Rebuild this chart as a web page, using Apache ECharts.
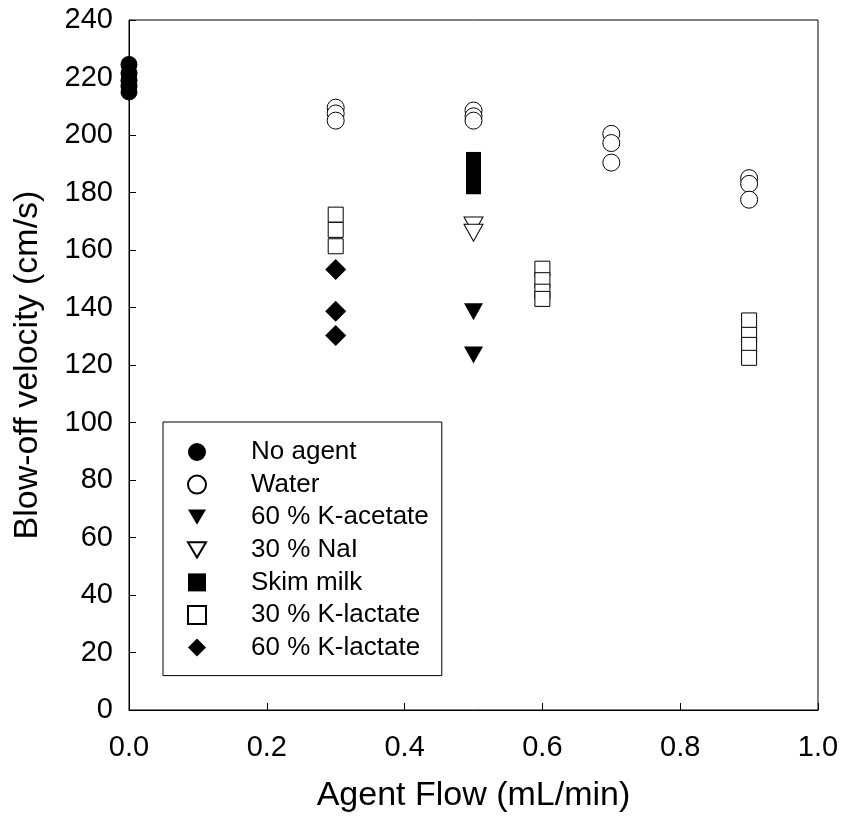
<!DOCTYPE html>
<html>
<head>
<meta charset="utf-8">
<script src="https://cdn.jsdelivr.net/npm/echarts@6/dist/echarts.min.js"></script>
<style>
  html, body { margin: 0; padding: 0; background: #fff; }
  #chart { width: 842px; height: 818px; }
</style>
</head>
<body>
<div id="chart"></div>
<script>
// [agent flow, blow-off velocity]
const noAgent = [[0, 224.5], [0, 221.5], [0, 219], [0, 217], [0, 215]];
const water = [[0.3, 209.5], [0.3, 207.5], [0.3, 205], [0.5, 208.5], [0.5, 206.5], [0.5, 205],
  [0.7, 200.4], [0.7, 197.2], [0.7, 190.4], [0.9, 185], [0.9, 183], [0.9, 177.5]];
const kAcetate60 = [[0.5, 138.5], [0.5, 123.5]];
const naI30 = [[0.5, 168.5], [0.5, 166]];
const skimMilk = [[0.5, 191.5], [0.5, 188.5], [0.5, 186], [0.5, 182]];
const kLactate30 = [[0.3, 172.3], [0.3, 167], [0.3, 161.3], [0.6, 153.5], [0.6, 149.5], [0.6, 145.5], [0.6, 143],
  [0.9, 135.5], [0.9, 130.5], [0.9, 127], [0.9, 122.5]];
const kLactate60 = [[0.3, 153.2], [0.3, 138.7], [0.3, 130.3]];

const xTicks = [0, 0.2, 0.4, 0.6, 0.8, 1.0];
const yTicks = [0, 20, 40, 60, 80, 100, 120, 140, 160, 180, 200, 220, 240];

const triDown = 'path://M0,0 L20,0 L10,17 Z';
const font = 'Liberation Sans, Arial, sans-serif';

function mk(name, data, symbol, size, filled) {
  return {
    name: name,
    type: 'scatter',
    data: data,
    symbol: symbol,
    symbolSize: size,
    itemStyle: filled
      ? { color: '#000', borderColor: '#000', borderWidth: 0, opacity: 1 }
      : { color: '#fff', borderColor: '#000', borderWidth: 1, opacity: 1 },
    emphasis: { disabled: true }
  };
}

const chart = echarts.init(document.getElementById('chart'));
chart.setOption({
  animation: false,
  backgroundColor: '#fff',
  textStyle: { fontFamily: font, color: '#000' },
  grid: { left: 129, right: 24, top: 20, bottom: 107, show: true, borderColor: '#000', borderWidth: 1 },
  legend: {
    orient: 'vertical',
    left: 163,
    top: 422,
    itemWidth: 18,
    itemHeight: 18,
    itemGap: 6.6,
    padding: [17, 13, 15, 24],
    borderColor: '#000',
    borderWidth: 1,
    textStyle: { fontSize: 26, fontFamily: font, color: '#000', padding: [0, 0, 0, 40] },
    selectedMode: false
  },
  xAxis: {
    type: 'value',
    min: xTicks[0],
    max: xTicks[xTicks.length - 1],
    interval: 0.2,
    name: 'Agent Flow (mL/min)',
    nameLocation: 'middle',
    nameGap: 69,
    nameTextStyle: { fontSize: 34, fontFamily: font, color: '#000' },
    axisLine: { lineStyle: { color: '#000', width: 1 } },
    axisTick: { inside: true, length: 7, lineStyle: { color: '#000' } },
    axisLabel: { fontSize: 29, color: '#000', margin: 23, formatter: v => v.toFixed(1) },
    splitLine: { show: false }
  },
  yAxis: {
    type: 'value',
    min: yTicks[0],
    max: yTicks[yTicks.length - 1],
    interval: 20,
    name: 'Blow-off velocity (cm/s)',
    nameLocation: 'middle',
    nameGap: 84,
    nameTextStyle: { fontSize: 34, fontFamily: font, color: '#000' },
    axisLine: { show: true, lineStyle: { color: '#000', width: 1 } },
    axisTick: { show: true, inside: true, length: 7, lineStyle: { color: '#000' } },
    axisLabel: { fontSize: 29, color: '#000', margin: 16 },
    splitLine: { show: false }
  },
  series: [
    mk('No agent', noAgent, 'circle', 17, true),
    mk('Water', water, 'circle', 17, false),
    mk('60 % K-acetate', kAcetate60, triDown, [19, 17], true),
    mk('30 % NaI', naI30, triDown, [19, 17], false),
    mk('Skim milk', skimMilk, 'rect', 15, true),
    mk('30 % K-lactate', kLactate30, 'rect', 15, false),
    mk('60 % K-lactate', kLactate60, 'diamond', 21, true)
  ]
});
</script>
</body>
</html>
